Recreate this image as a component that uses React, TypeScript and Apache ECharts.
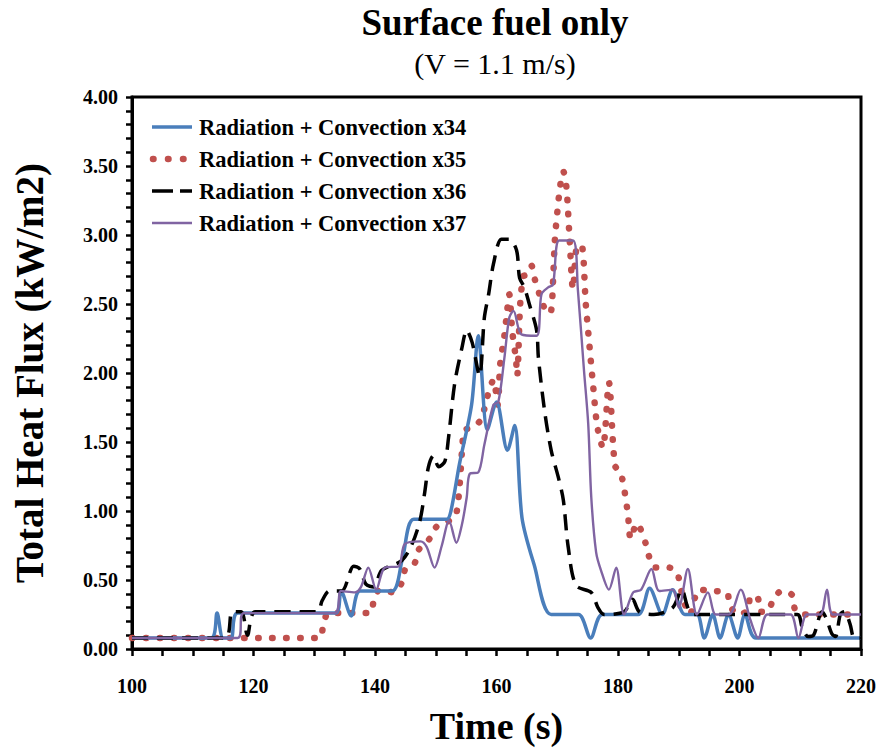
import React, { useEffect, useRef } from "react";
import * as echarts from "echarts";

const seriesNames = [
  "Radiation + Convection x34",
  "Radiation + Convection x35",
  "Radiation + Convection x36",
  "Radiation + Convection x37",
];

const xTicks = [100, 120, 140, 160, 180, 200, 220];
const yTicks = [0, 0.5, 1, 1.5, 2, 2.5, 3, 3.5, 4];

// [time (s), total heat flux (kW/m2)]
const x34Data: number[][] = [
  [100, 0.08], [113, 0.08], [114, 0.26], [115, 0.08], [116.3, 0.08], [117.4, 0.26],
  [133.5, 0.26], [134.4, 0.42], [136.1, 0.24], [137.5, 0.42], [142.8, 0.42], [144.5, 0.65],
  [146.4, 0.94], [151.8, 0.94], [152.5, 1.0], [153.9, 1.34], [155.9, 1.77], [157.0, 2.27],
  [158.5, 1.59], [160.0, 1.79], [161.8, 1.44], [163.0, 1.62], [164.2, 0.95], [166.2, 0.61],
  [169, 0.25], [173.5, 0.25], [175.5, 0.08], [177.4, 0.25], [183.3, 0.25], [185.2, 0.44],
  [187.3, 0.25], [189, 0.43], [191, 0.25], [193, 0.25], [194.2, 0.08], [195.6, 0.25],
  [196.8, 0.08], [198.2, 0.25], [199.7, 0.08], [200.9, 0.25], [202.7, 0.08], [220, 0.08],
];

const x35Data: number[][] = [
  [100, 0.08], [130.8, 0.08], [131.5, 0.18], [132.4, 0.26], [139.2, 0.26], [139.8, 0.35],
  [140.8, 0.43], [143.1, 0.41], [144.4, 0.48], [145, 0.58], [146.5, 0.62], [147.2, 0.72],
  [149, 0.8], [150.2, 0.89], [152.2, 0.93], [153.4, 0.98], [154.4, 1.48], [154.6, 1.58],
  [156.1, 1.61], [157.4, 1.66], [158.7, 1.86], [159.5, 1.95], [160.2, 1.77], [160.6, 2.06],
  [161.3, 2.27], [161.8, 2.47], [162.1, 2.57], [162.6, 2.3], [163.2, 2.1], [163.4, 1.98],
  [163.9, 2.5], [164.4, 2.7], [164.8, 2.71], [165.7, 2.78], [166.3, 2.68], [167, 2.58],
  [167.7, 2.49], [168.5, 2.43], [169, 2.45], [169.3, 2.66], [169.6, 2.96], [170, 3.16],
  [170.5, 3.36], [171, 3.46], [171.5, 3.35], [172, 3.0], [172.6, 2.61], [173.3, 2.92],
  [174, 2.92], [174.7, 2.5], [175.3, 2.2], [175.9, 1.91], [176.6, 1.61], [177.5, 1.46],
  [178.5, 1.93], [179.5, 1.33], [180.5, 1.27], [181.6, 0.99], [182.1, 0.8], [183.1, 0.91],
  [184.6, 0.76], [185.2, 0.66], [186.2, 0.59], [188.4, 0.59], [189.8, 0.54], [190.3, 0.44],
  [191.8, 0.25], [193.4, 0.43], [195.7, 0.42], [197.9, 0.41], [198.4, 0.32], [199.7, 0.25],
  [201.4, 0.28], [201.8, 0.38], [203, 0.37], [203.4, 0.27], [204.5, 0.27], [205.6, 0.36],
  [206.9, 0.42], [208.7, 0.39], [209.2, 0.28], [210.8, 0.25], [220, 0.25],
];

const x36Data: number[][] = [
  [100, 0.08], [115.3, 0.08], [116.5, 0.27], [118, 0.27], [119, 0.1], [120.3, 0.27],
  [130.5, 0.27], [131.3, 0.35], [132.5, 0.42], [134.5, 0.42], [136.5, 0.6], [137.5, 0.58],
  [138.5, 0.47], [139.8, 0.45], [141.1, 0.57], [144.4, 0.64], [146.1, 0.76], [147.4, 0.93],
  [148.2, 1.14], [148.8, 1.32], [149.6, 1.4], [150.5, 1.32], [151.5, 1.36], [152.1, 1.53],
  [153.1, 1.92], [154.3, 2.18], [155.1, 2.31], [156.0, 2.22], [157.2, 1.98], [158, 2.4],
  [158.7, 2.57], [159.5, 2.79], [160.8, 2.97], [162.1, 2.97], [163.3, 2.89], [163.8, 2.69],
  [164.6, 2.62], [165.4, 2.5], [166.6, 2.31], [166.9, 2.11], [167.9, 1.73], [169, 1.44],
  [170.2, 1.24], [171, 1.08], [171.8, 0.74], [173.1, 0.46], [175.6, 0.41], [176.7, 0.3],
  [177.7, 0.25], [181, 0.27], [182.4, 0.36], [183.5, 0.27], [185.9, 0.25], [189, 0.3],
  [190.5, 0.43], [191.5, 0.3], [192.5, 0.25], [209.5, 0.25], [210.3, 0.16], [211.3, 0.09],
  [212.2, 0.1], [213.6, 0.27], [214.3, 0.22], [215.2, 0.11], [215.8, 0.09], [216.6, 0.25],
  [217.3, 0.27], [218.2, 0.18], [218.9, 0.08], [220, 0.08],
];

const x37Data: number[][] = [
  [100, 0.08], [117.4, 0.08], [118.4, 0.26], [133.4, 0.26], [134.4, 0.42], [136.7, 0.41],
  [137.7, 0.45], [138.9, 0.59], [140.2, 0.43], [141.6, 0.59], [143.9, 0.6], [144.9, 0.76],
  [147.5, 0.78], [148.5, 0.74], [149.8, 0.59], [151, 0.75], [152.2, 0.93], [153.4, 0.77],
  [154.3, 0.9], [155.1, 1.1], [155.6, 1.27], [157, 1.28], [158, 1.48], [159.5, 1.77],
  [160.3, 1.79], [161.3, 2.11], [162.1, 2.4], [162.8, 2.45], [164.1, 2.28], [166.6, 2.27],
  [167.4, 2.57], [168.5, 2.62], [169.3, 2.64], [170.3, 2.96], [172.6, 2.96], [173.4, 2.6],
  [174.4, 2.02], [175.1, 1.63], [175.6, 1.1], [176.4, 0.7], [177.2, 0.57], [178.5, 0.43],
  [179.7, 0.59], [181, 0.25], [182.5, 0.41], [183.8, 0.43], [185.5, 0.58], [186.8, 0.42],
  [189, 0.43], [190, 0.3], [191.5, 0.58], [193, 0.25], [194.8, 0.41], [196.1, 0.25],
  [198.3, 0.25], [200.2, 0.43], [201.8, 0.21], [203.1, 0.08], [204.6, 0.25], [208.4, 0.25],
  [209.7, 0.08], [211.1, 0.25], [213.3, 0.25], [214.4, 0.43], [215.4, 0.25], [220, 0.25],
];

const FONT = "'Liberation Serif', 'Times New Roman', serif";

const colors = ["#4a7ebb", "#c0504d", "#000000", "#8064a2"];
const widths = [3.5, 6.5, 3.5, 2.4];
const plotDash: (number[] | undefined)[] = [undefined, [0.5, 13.5], [16, 9], undefined];
const legendDash: (number[] | undefined)[] = [undefined, [0.5, 14.5], [21, 7], undefined];

export default function App() {
  const ref = useRef<HTMLDivElement>(null);
  useEffect(() => {
    if (!ref.current) return;
    const chart = echarts.init(ref.current, undefined, { renderer: "svg" });
    const smooth = 0.3;
    const legendRows = [127, 159, 191, 223];
    const legendGraphics: any[] = [];
    seriesNames.forEach((name, i) => {
      const y = legendRows[i];
      legendGraphics.push({
        type: "line",
        shape: { x1: i === 1 ? 153 : 152, y1: y, x2: i === 1 ? 184 : 192, y2: y },
        style: {
          stroke: colors[i],
          lineWidth: i === 1 ? 6.5 : widths[i],
          lineDash: legendDash[i],
          lineCap: i === 1 ? "round" : "butt",
        },
        z: 100,
      });
      legendGraphics.push({
        type: "text",
        x: 199,
        y,
        style: {
          text: name,
          font: `bold 22.5px ${FONT}`,
          fill: "#000",
          textAlign: "left",
          textVerticalAlign: "middle",
        },
        z: 100,
      });
    });
    chart.setOption({
      animation: false,
      backgroundColor: "#fff",
      textStyle: { fontFamily: FONT },
      graphic: [
        {
          type: "text",
          x: 495,
          y: 22,
          style: {
            text: "Surface fuel only",
            font: `bold 37px ${FONT}`,
            fill: "#000",
            textAlign: "center",
            textVerticalAlign: "middle",
          },
        },
        {
          type: "text",
          x: 495,
          y: 63,
          style: {
            text: "(V = 1.1 m/s)",
            font: `30px ${FONT}`,
            fill: "#000",
            textAlign: "center",
            textVerticalAlign: "middle",
          },
        },
        ...legendGraphics,
      ],
      grid: {
        left: 132,
        right: 21,
        top: 97,
        bottom: 98,
        show: true,
        borderColor: "#000",
        borderWidth: 3,
      },
      xAxis: {
        type: "value",
        min: 100,
        max: 220,
        interval: 20,
        name: "Time (s)",
        nameLocation: "middle",
        nameGap: 58,
        nameTextStyle: { fontFamily: FONT, fontWeight: "bold", fontSize: 38, color: "#000" },
        axisLine: { show: true, lineStyle: { color: "#000", width: 3 } },
        axisTick: { show: true, length: 7, lineStyle: { color: "#000", width: 2.5 } },
        minorTick: { show: true, splitNumber: 4, length: 7, lineStyle: { color: "#000", width: 2.5 } },
        splitLine: { show: false },
        axisLabel: {
          margin: 27,
          fontFamily: FONT,
          fontWeight: "bold",
          fontSize: 20,
          color: "#000",
          formatter: (v: number) => (xTicks.includes(v) ? String(v) : ""),
        },
      },
      yAxis: {
        type: "value",
        min: 0,
        max: 4,
        interval: 0.5,
        name: "Total Heat Flux (kW/m2)",
        nameLocation: "middle",
        nameGap: 83,
        nameRotate: 90,
        nameTextStyle: { fontFamily: FONT, fontWeight: "bold", fontSize: 39, color: "#000" },
        axisLine: { show: true, lineStyle: { color: "#000", width: 3 } },
        axisTick: { show: true, length: 6, lineStyle: { color: "#000", width: 2.5 } },
        minorTick: { show: true, splitNumber: 5, length: 6, lineStyle: { color: "#000", width: 2.5 } },
        splitLine: { show: false },
        axisLabel: {
          margin: 14,
          fontFamily: FONT,
          fontWeight: "bold",
          fontSize: 20,
          color: "#000",
          formatter: (v: number) => (yTicks.some((t) => Math.abs(t - v) < 1e-9) ? v.toFixed(2) : ""),
        },
      },
      series: [x34Data, x35Data, x36Data, x37Data].map((data, i) => ({
        name: seriesNames[i],
        type: "line",
        data,
        smooth,
        symbol: "none",
        color: colors[i],
        lineStyle: {
          color: colors[i],
          width: widths[i],
          type: plotDash[i] ?? "solid",
          cap: i === 1 ? "round" : "butt",
        },
        z: [3, 2, 4, 5][i],
      })),
    });
    return () => chart.dispose();
  }, []);
  return (
    <div
      ref={ref}
      style={{ position: "fixed", left: 0, top: 0, width: 882, height: 750, overflow: "visible" }}
    />
  );
}
